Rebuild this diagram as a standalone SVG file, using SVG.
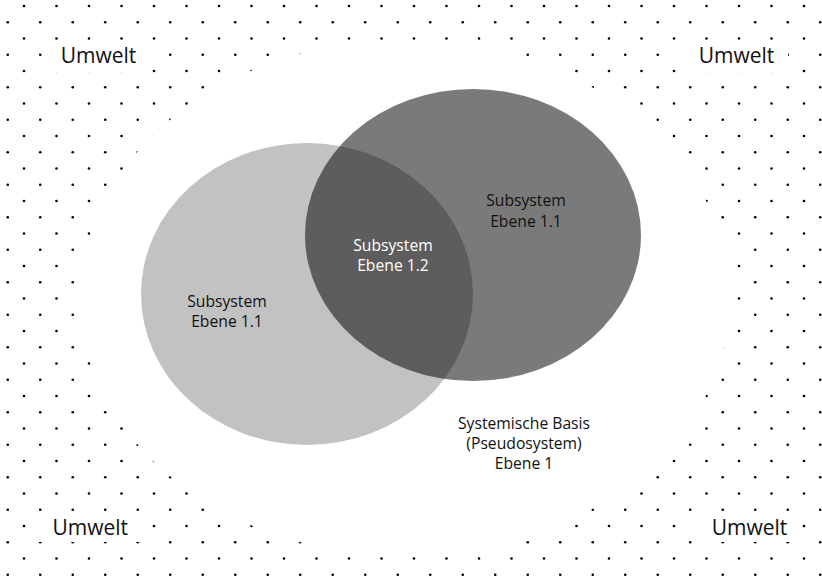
<svg xmlns="http://www.w3.org/2000/svg" width="822" height="579" viewBox="0 0 822 579">
  <defs>
    <!-- staggered dot raster used for the surrounding environment (2x2 repeat on an integer tile) -->
    <pattern id="dots" patternUnits="userSpaceOnUse" x="0" y="0" width="65" height="65">
      <g fill="#000">
        <circle cx="24" cy="6" r="1.3"/>
        <circle cx="56.5" cy="6" r="1.3"/>
        <circle cx="7.75" cy="22.25" r="1.3"/>
        <circle cx="40.25" cy="22.25" r="1.3"/>
        <circle cx="24" cy="38.5" r="1.3"/>
        <circle cx="56.5" cy="38.5" r="1.3"/>
        <circle cx="7.75" cy="54.75" r="1.3"/>
        <circle cx="40.25" cy="54.75" r="1.3"/>
      </g>
    </pattern>
  </defs>
  <style>
    .env-label { font-family: "Open Sans", "Liberation Sans", sans-serif; font-size: 21px; fill: #111; text-anchor: middle; }
    .label { font-family: "Open Sans", "Liberation Sans", sans-serif; font-size: 15.7px; fill: #111; text-anchor: middle; }
    .label-light { fill: #fff; }
    .knockout { fill: #fff; }
  </style>

  <!-- environment: dotted field with a clear zone for the base system -->
  <g id="environment">
    <rect x="0" y="0" width="822" height="579" fill="#fff"/>
    <rect x="0" y="0" width="822" height="579" fill="url(#dots)"/>
    <ellipse class="knockout" cx="405" cy="298" rx="325" ry="258"/>
  </g>

  <g id="umwelt-top-left">
    <rect class="knockout" x="46" y="42" width="103" height="30.3"/>
    <text class="env-label" x="98.5" y="63.3">Umwelt</text>
  </g>
  <g id="umwelt-top-right">
    <rect class="knockout" x="682" y="42" width="106" height="30.3"/>
    <text class="env-label" x="736.5" y="63.3">Umwelt</text>
  </g>
  <g id="umwelt-bottom-left">
    <rect class="knockout" x="36" y="513" width="109" height="29"/>
    <text class="env-label" x="90.2" y="535">Umwelt</text>
  </g>
  <g id="umwelt-bottom-right">
    <rect class="knockout" x="697" y="513" width="103" height="29"/>
    <text class="env-label" x="749.5" y="535">Umwelt</text>
  </g>

  <!-- base system label -->
  <g id="systemische-basis">
    <text class="label" x="524" y="429.3">Systemische Basis</text>
    <text class="label" x="524" y="449.3">(Pseudosystem)</text>
    <text class="label" x="524" y="469.3">Ebene 1</text>
  </g>

  <!-- left subsystem (light) -->
  <g id="subsystem-left">
    <ellipse cx="307" cy="294" rx="166" ry="151" fill="#c2c2c2"/>
    <text class="label" x="227" y="306.7">Subsystem</text>
    <text class="label" x="227" y="327.3">Ebene 1.1</text>
  </g>

  <!-- right subsystem (translucent, darkens the overlap) -->
  <g id="subsystem-right">
    <ellipse cx="473" cy="235" rx="168" ry="146" fill="#000" fill-opacity="0.522"/>
    <text class="label" x="526" y="206">Subsystem</text>
    <text class="label" x="526" y="226.5">Ebene 1.1</text>
  </g>

  <!-- overlap subsystem -->
  <g id="subsystem-overlap">
    <text class="label label-light" x="393" y="250.7">Subsystem</text>
    <text class="label label-light" x="393" y="271">Ebene 1.2</text>
  </g>

  <g id="connectors"/>
</svg>
